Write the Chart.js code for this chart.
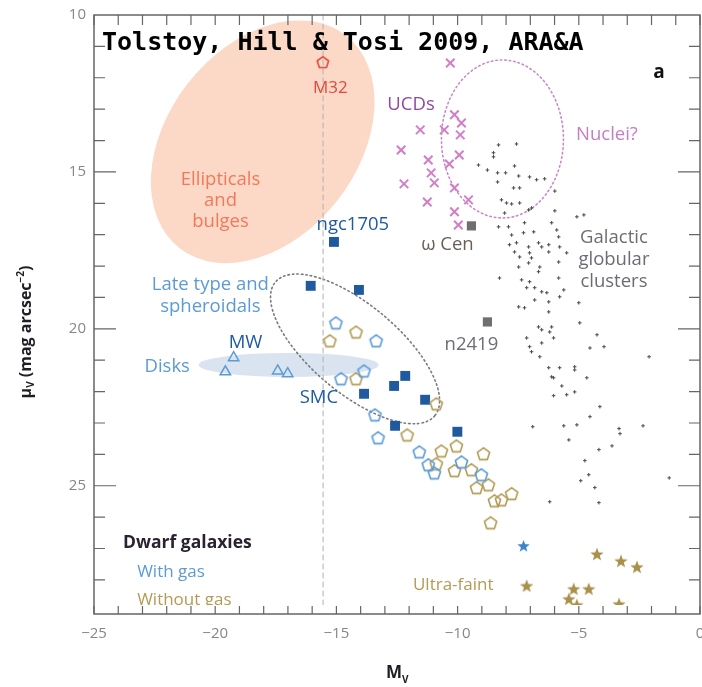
<!DOCTYPE html>
<html>
<head>
<meta charset="utf-8">
<script src="https://cdn.jsdelivr.net/npm/chart.js@4.4.1/dist/chart.umd.min.js"></script>
<style>
  html, body { margin: 0; padding: 0; background: #fff; overflow: hidden; }
  #myChart { display: block; }
</style>
</head>
<body>
<canvas id="myChart" width="702" height="687"></canvas>
<script>
// absolute magnitude M_V vs central surface brightness mu_V
var m32 = [[-15.56, 11.50]];

var ucds = [
    [-10.30, 11.53], [-10.13, 13.18], [-9.84, 13.44], [-11.54, 13.66], [-10.55, 13.66],
    [-9.89, 13.82], [-12.33, 14.30], [-9.93, 14.46], [-11.21, 14.62], [-10.34, 14.75],
    [-11.09, 15.03], [-10.96, 15.35], [-12.21, 15.38], [-10.13, 15.51], [-9.55, 15.89],
    [-11.25, 15.96], [-10.13, 16.27], [-9.97, 16.69]
];

var globulars = [
    [-8.31, 14.14], [-7.57, 14.11], [-8.52, 14.39], [-8.52, 14.52], [-9.14, 14.78],
    [-8.77, 14.94], [-7.65, 14.81], [-8.35, 15.03], [-8.02, 15.03], [-7.48, 15.13],
    [-7.03, 15.16], [-6.74, 15.25], [-6.41, 15.22], [-8.35, 15.32], [-7.69, 15.51],
    [-7.44, 15.51], [-5.99, 15.61], [-8.19, 15.89], [-7.98, 15.99], [-7.77, 16.02],
    [-7.44, 15.99], [-6.95, 16.15], [-7.07, 16.21], [-5.99, 16.24], [-8.06, 16.31],
    [-5.08, 16.43], [-4.79, 16.37], [-8.31, 16.75], [-7.90, 16.75], [-7.24, 16.62],
    [-6.12, 16.62], [-5.91, 16.85], [-7.77, 17.01], [-7.28, 16.94], [-6.86, 16.91],
    [-5.83, 17.07], [-7.86, 17.32], [-7.57, 17.26], [-7.07, 17.39], [-6.66, 17.26],
    [-6.53, 17.39], [-6.24, 17.32], [-5.79, 17.39], [-5.50, 17.58], [-7.65, 17.55],
    [-7.03, 17.58], [-7.44, 17.71], [-6.95, 17.74], [-6.24, 17.55], [-7.48, 18.03],
    [-7.07, 17.90], [-6.61, 18.03], [-6.66, 18.18], [-5.83, 17.87], [-8.27, 18.38],
    [-7.36, 18.44], [-7.03, 18.50], [-5.83, 18.38], [-7.15, 18.69], [-6.82, 18.69],
    [-6.53, 18.82], [-6.32, 18.85], [-5.62, 18.76], [-5.79, 18.98], [-7.48, 19.30],
    [-7.24, 19.33], [-6.82, 19.08], [-6.24, 19.14], [-5.00, 19.17], [-6.24, 19.46],
    [-6.66, 19.94], [-6.53, 20.03], [-6.12, 19.94], [-6.20, 20.10], [-4.96, 19.81],
    [-7.15, 20.29], [-6.53, 20.45], [-6.04, 20.29], [-7.03, 20.57], [-6.95, 20.73],
    [-6.61, 20.89], [-4.25, 20.19], [-4.54, 20.61], [-3.96, 20.57], [-2.10, 20.89],
    [-6.24, 21.24], [-5.79, 21.24], [-5.17, 21.21], [-5.17, 21.31], [-6.12, 21.53],
    [-6.04, 21.56], [-4.67, 21.56], [-5.70, 21.82], [-6.04, 22.13], [-5.50, 22.10],
    [-5.17, 22.01], [-4.13, 22.48], [-4.54, 22.80], [-6.90, 23.12], [-5.62, 23.09],
    [-5.08, 23.06], [-3.34, 23.18], [-3.30, 23.34], [-2.35, 23.09], [-5.41, 23.54],
    [-4.17, 23.85], [-3.63, 23.73], [-4.75, 24.20], [-4.59, 24.65], [-4.92, 24.84],
    [-1.27, 24.75], [-4.34, 25.06], [-6.20, 25.51], [-4.17, 25.54]
];

var omegaCen = [[-9.43, 16.72]];
var ngc2419 = [[-8.77, 19.78]];

var lateTypes = [
    [-15.10, 17.23], [-16.06, 18.63], [-14.07, 18.76], [-12.16, 21.50], [-12.62, 21.82],
    [-13.86, 22.07], [-11.34, 22.26], [-12.58, 23.09], [-10.01, 23.28]
];

var disks = [[-19.24, 20.92], [-19.58, 21.37], [-17.42, 21.34], [-17.01, 21.43]];

var dwarfsWithGas = [
    [-15.02, 19.81], [-13.36, 20.38], [-14.81, 21.59], [-13.86, 21.34], [-13.41, 22.74],
    [-13.28, 23.47], [-11.58, 23.92], [-11.21, 24.33], [-10.96, 24.59], [-9.84, 24.24],
    [-9.02, 24.65]
];

var dwarfsNoGas = [
    [-15.27, 20.38], [-14.19, 20.10], [-14.19, 21.59], [-10.88, 22.39], [-12.08, 23.38],
    [-10.05, 23.73], [-10.67, 23.89], [-8.93, 23.98], [-10.88, 24.30], [-10.13, 24.52],
    [-9.43, 24.49], [-9.22, 25.06], [-8.73, 24.97], [-8.48, 25.48], [-8.19, 25.45],
    [-7.77, 25.25], [-8.64, 26.18]
];

var ultraFaintGas = [[-7.28, 26.91]];
var ultraFaintNoGas = [
    [-7.15, 28.18], [-4.25, 27.17], [-3.26, 27.39], [-2.60, 27.58], [-5.21, 28.28],
    [-4.59, 28.28], [-5.41, 28.60], [-3.34, 28.76], [-5.08, 28.79]
];

var xTicks = [-25, -20, -15, -10, -5, 0];
var yTicks = [10, 15, 20, 25];

var BLUE = '#5b9bd5', DARKBLUE = '#1f5a9f', OLIVE = '#b39b55', PINK = '#d17ec6';

function toPoints(list) {
    return list.map(function (p) { return { x: p[0], y: p[1] }; });
}

// small canvas markers for shapes Chart.js does not ship
function pentagon(color, r) {
    var c = document.createElement('canvas');
    var s = Math.ceil(r * 2 + 4);
    c.width = s; c.height = s;
    var g = c.getContext('2d');
    g.strokeStyle = color;
    g.lineWidth = 1.6;
    g.lineJoin = 'round';
    g.beginPath();
    for (var i = 0; i < 5; i++) {
        var a = -Math.PI / 2 + i * 2 * Math.PI / 5;
        var px = s / 2 + r * Math.cos(a), py = s / 2 + 0.6 + r * Math.sin(a);
        if (i === 0) g.moveTo(px, py); else g.lineTo(px, py);
    }
    g.closePath();
    g.stroke();
    return c;
}

function star(color, r) {
    var c = document.createElement('canvas');
    var s = Math.ceil(r * 2 + 4);
    c.width = s; c.height = s;
    var g = c.getContext('2d');
    g.fillStyle = color;
    g.beginPath();
    for (var i = 0; i < 10; i++) {
        var a = -Math.PI / 2 + i * Math.PI / 5;
        var rr = i % 2 === 0 ? r : r * 0.42;
        var px = s / 2 + rr * Math.cos(a), py = s / 2 + 0.8 + rr * Math.sin(a);
        if (i === 0) g.moveTo(px, py); else g.lineTo(px, py);
    }
    g.closePath();
    g.fill();
    return c;
}

// shaded / dotted regions, centre in data units, radii in px
var regions = [
    { at: [-18.04, 14.04], rx: 135, ry: 95, rot: -52, fill: '#fcd9c6' },
    { at: [-16.97, 21.15], rx: 90, ry: 12, rot: 0, fill: '#d9e4f0' },
    { at: [-8.15, 13.95], rx: 61, ry: 79, rot: 0, stroke: '#c98ac6', dash: [1.5, 3] },
    { at: [-14.23, 20.64], rx: 104, ry: 44, rot: 40, stroke: '#7a7a7a', dash: [1.5, 3] }
];

var notes = [
    { text: 'M32', at: [-15.25, 12.32], color: '#e5473e', size: 17 },
    { text: 'UCDs', at: [-11.92, 12.87], color: '#8d4aa3' },
    { text: 'Nuclei?', at: [-3.84, 13.82], color: '#c47fc2' },
    { text: 'Ellipticals', at: [-19.78, 15.25], color: '#f2785a' },
    { text: 'and', at: [-19.78, 15.92], color: '#f2785a' },
    { text: 'bulges', at: [-19.78, 16.59], color: '#f2785a' },
    { text: 'ngc1705', at: [-14.32, 16.69], color: DARKBLUE },
    { text: '\u03c9 Cen', at: [-10.42, 17.32], color: '#6a5f55' },
    { text: 'Galactic', at: [-3.55, 17.10], color: '#6c6c74' },
    { text: 'globular', at: [-3.55, 17.80], color: '#6c6c74' },
    { text: 'clusters', at: [-3.55, 18.50], color: '#6c6c74' },
    { text: 'n2419', at: [-9.43, 20.51], color: '#6c6c74' },
    { text: 'Late type and', at: [-20.2, 18.60], color: BLUE },
    { text: 'spheroidals', at: [-20.2, 19.30], color: BLUE },
    { text: 'MW', at: [-18.75, 20.45], color: DARKBLUE },
    { text: 'Disks', at: [-21.98, 21.21], color: BLUE },
    { text: 'SMC', at: [-15.72, 22.20], color: DARKBLUE },
    { text: 'Ultra-faint', at: [-10.18, 28.18], color: OLIVE, size: 17 },
    { text: 'Dwarf galaxies', at: [-23.8, 26.82], color: '#2a2230', bold: true, size: 17.5, align: 'left' },
    { text: 'With gas', at: [-23.22, 27.74], color: BLUE, size: 17, align: 'left' },
    { text: 'Without gas', at: [-23.22, 28.63], color: OLIVE, size: 17, align: 'left' },
    { text: 'a', at: [-1.69, 11.82], color: '#111', bold: true, size: 19 }
];

var markup = {
    id: 'markup',
    beforeDatasetsDraw: function (chart) {
        var c = chart.ctx, a = chart.chartArea;
        var xs = chart.scales.x, ys = chart.scales.y;
        c.save();
        c.beginPath();
        c.rect(a.left, a.top, a.right - a.left, a.bottom - a.top);
        c.clip();
        regions.forEach(function (r) {
            c.beginPath();
            c.ellipse(xs.getPixelForValue(r.at[0]), ys.getPixelForValue(r.at[1]),
                r.rx, r.ry, r.rot * Math.PI / 180, 0, 2 * Math.PI);
            if (r.fill) {
                c.fillStyle = r.fill;
                c.fill();
            } else {
                c.setLineDash(r.dash);
                c.lineCap = 'round';
                c.lineWidth = 1.6;
                c.strokeStyle = r.stroke;
                c.stroke();
                c.setLineDash([]);
            }
        });
        // M_V = -15.5 divider
        var vx = xs.getPixelForValue(-15.55);
        c.beginPath();
        c.setLineDash([5, 4]);
        c.strokeStyle = '#b0b0b0';
        c.lineWidth = 1;
        c.moveTo(vx, a.top);
        c.lineTo(vx, a.bottom);
        c.stroke();
        c.restore();
    },
    afterDatasetsDraw: function (chart) {
        var c = chart.ctx, a = chart.chartArea;
        var xs = chart.scales.x, ys = chart.scales.y;
        c.save();
        c.beginPath();
        c.rect(a.left, a.top, a.right - a.left, a.bottom - a.top);
        c.clip();
        c.textBaseline = 'middle';
        notes.forEach(function (n) {
            c.font = (n.bold ? 'bold ' : '') + (n.size || 18.5) + 'px "Open Sans"';
            c.fillStyle = n.color;
            c.textAlign = n.align || 'center';
            c.fillText(n.text, xs.getPixelForValue(n.at[0]), ys.getPixelForValue(n.at[1]));
        });
        c.restore();

        c.save();
        c.font = 'bold 25px "DejaVu Sans Mono"';
        c.fillStyle = '#000';
        c.textAlign = 'left';
        c.textBaseline = 'alphabetic';
        c.fillText('Tolstoy, Hill & Tosi 2009, ARA&A', 102, 50);

        // frame with inward ticks
        var bottom = a.bottom + 9;
        c.strokeStyle = '#666';
        c.lineWidth = 1.5;
        c.beginPath();
        c.rect(a.left, a.top, a.right - a.left, bottom - a.top);
        c.stroke();
        c.lineWidth = 1.2;
        c.beginPath();
        for (var v = 11; v <= 28; v++) {
            var py = ys.getPixelForValue(v);
            var len = v % 5 === 0 ? 22 : 11;
            c.moveTo(a.left, py); c.lineTo(a.left + len, py);
            c.moveTo(a.right, py); c.lineTo(a.right - len, py);
        }
        for (var m = -25; m <= 0; m++) {
            var px = xs.getPixelForValue(m);
            c.moveTo(px, a.top); c.lineTo(px, a.top + 10);
            c.moveTo(px, bottom); c.lineTo(px, bottom - 8);
        }
        c.stroke();

        // axis titles
        c.fillStyle = '#1e1e24';
        c.textBaseline = 'alphabetic';
        var parts = [
            ['\u03bc', 16, 0], ['V', 10, 3], [' (mag arcsec', 16, 0], ['\u22122', 10, -7], [')', 16, 0]
        ];
        var widths = parts.map(function (p) {
            c.font = 'bold ' + p[1] + 'px "Open Sans"';
            return c.measureText(p[0]).width;
        });
        var total = widths.reduce(function (s, w) { return s + w; }, 0);
        c.save();
        c.translate(31, 332);
        c.rotate(-Math.PI / 2);
        var cx = -total / 2;
        parts.forEach(function (p, i) {
            c.font = 'bold ' + p[1] + 'px "Open Sans"';
            c.fillText(p[0], cx, p[2]);
            cx += widths[i];
        });
        c.restore();

        c.font = 'bold 17px "Open Sans"';
        var mw = c.measureText('M').width;
        c.fillText('M', 397 - mw / 2 - 3, 678);
        c.font = 'bold 10px "Open Sans"';
        c.fillText('V', 397 + mw / 2 - 3, 683);
        c.restore();
    }
};

var ctx = document.getElementById('myChart').getContext('2d');

function noPadding() {
    return { left: 0, top: 0, right: 0, bottom: 0 };
}

function renderChart() {
    var tickFont = { family: 'Open Sans', size: 15 };
    // invisible tick marks only push the labels away from the frame
    var spacer = function (len) {
        return { display: true, drawOnChartArea: false, drawTicks: true, tickLength: len, tickColor: 'rgba(0,0,0,0)' };
    };
    new Chart(ctx, {
        type: 'scatter',
        data: {
            datasets: [
                { label: 'Galactic globular clusters', data: toPoints(globulars), pointStyle: 'cross',
                  pointRadius: 1.8, borderColor: '#4a4a4a', borderWidth: 1 },
                { label: 'UCDs', data: toPoints(ucds), pointStyle: 'crossRot', pointRadius: 6,
                  borderColor: PINK, borderWidth: 2 },
                { label: 'omega Cen', data: toPoints(omegaCen), pointStyle: 'rect', pointRadius: 6.5,
                  backgroundColor: '#6f6f6f', borderColor: '#6f6f6f', borderWidth: 0 },
                { label: 'n2419', data: toPoints(ngc2419), pointStyle: 'rect', pointRadius: 6.5,
                  backgroundColor: '#6f6f6f', borderColor: '#6f6f6f', borderWidth: 0 },
                { label: 'Disks', data: toPoints(disks), pointStyle: 'triangle', pointRadius: 6,
                  borderColor: BLUE, backgroundColor: 'rgba(0,0,0,0)', borderWidth: 1.5 },
                { label: 'With gas', data: toPoints(dwarfsWithGas), pointStyle: pentagon(BLUE, 6.5) },
                { label: 'Without gas', data: toPoints(dwarfsNoGas), pointStyle: pentagon(OLIVE, 6.5) },
                { label: 'Late type', data: toPoints(lateTypes), pointStyle: 'rect', pointRadius: 7,
                  backgroundColor: DARKBLUE, borderColor: DARKBLUE, borderWidth: 0 },
                { label: 'M32', data: toPoints(m32), pointStyle: pentagon('#e5473e', 6) },
                { label: 'Ultra-faint with gas', data: toPoints(ultraFaintGas), pointStyle: star('#3d85c6', 6.5) },
                { label: 'Ultra-faint', data: toPoints(ultraFaintNoGas), pointStyle: star('#a8914a', 7) }
            ]
        },
        options: {
            responsive: false,
            animation: false,
            events: [],
            layout: { autoPadding: false, padding: { top: 15, right: 2, left: 0, bottom: 0 } },
            plugins: { legend: { display: false }, tooltip: { enabled: false } },
            scales: {
                x: {
                    type: 'linear', min: -25, max: 0,
                    afterBuildTicks: function (s) { s.ticks = xTicks.map(function (v) { return { value: v }; }); },
                    // end labels may hang over the frame, so the axis asks for no side padding
                    afterFit: function (s) { s.height = 82; s.getPadding = noPadding; },
                    grid: spacer(19),
                    border: { display: false },
                    ticks: {
                        color: '#8a8684', font: tickFont, padding: 1, maxRotation: 0,
                        callback: function (v) { return v < 0 ? '\u2212' + Math.abs(v) : String(v); }
                    }
                },
                y: {
                    type: 'linear', min: 10, max: 28.8, reverse: true,
                    afterBuildTicks: function (s) { s.ticks = yTicks.map(function (v) { return { value: v }; }); },
                    afterFit: function (s) { s.width = 94; },
                    grid: spacer(7),
                    border: { display: false },
                    ticks: { color: '#8a8684', font: tickFont, padding: 1 }
                }
            }
        },
        plugins: [markup]
    });
}

renderChart();
</script>
</body>
</html>
